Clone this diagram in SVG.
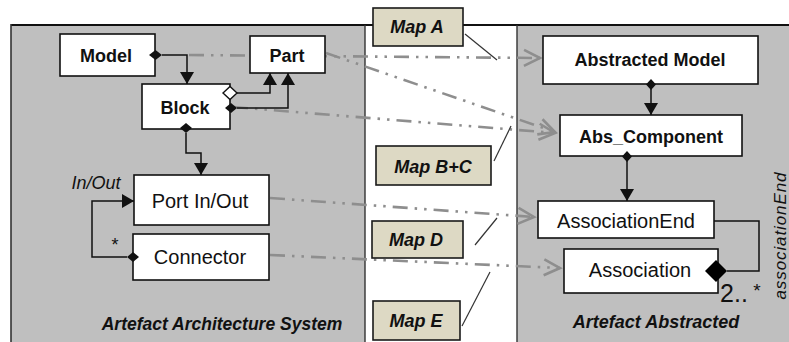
<svg xmlns="http://www.w3.org/2000/svg" width="789" height="342" viewBox="0 0 789 342">
<style>
.node{fill:#fff;stroke:#111;stroke-width:1.6}
.map{fill:#ddd9c4;stroke:#1a1a1a;stroke-width:1.6}
.t{font-family:"Liberation Sans",Arial,sans-serif;fill:#111;text-anchor:middle}
.b{font-weight:bold;font-size:18px}
.r{font-size:20px}
.mi{font-weight:bold;font-style:italic;font-size:18px}
.c{fill:none;stroke:#111;stroke-width:1.5}
.m{fill:none;stroke:#8e8e8e;stroke-width:2.6;stroke-dasharray:15 7 2.5 7 2.5 7}
.lead{fill:none;stroke:#333;stroke-width:1.2}
</style>
<defs>
<marker id="tri" markerUnits="userSpaceOnUse" markerWidth="14" markerHeight="14" viewBox="0 0 14 14" refX="12" refY="7" orient="auto">
<path d="M0,0 L12,7 L0,14 Z" fill="#111"/>
</marker>
<marker id="open" markerUnits="userSpaceOnUse" markerWidth="22" markerHeight="20" viewBox="0 0 22 20" refX="18" refY="10" orient="auto">
<path d="M2,2 L18,10 L2,18" fill="none" stroke="#8e8e8e" stroke-width="2.6"/>
</marker>
</defs>
<!-- panels -->
<rect x="11" y="25" width="354" height="317" fill="#bfbfbf"/>
<rect x="365" y="25" width="152" height="317" fill="#fff"/>
<rect x="517" y="25" width="272" height="317" fill="#bfbfbf"/>
<line x1="11" y1="25" x2="789" y2="25" stroke="#111" stroke-width="2"/>
<line x1="11" y1="24" x2="11" y2="342" stroke="#333" stroke-width="1.6"/>
<line x1="365" y1="25" x2="365" y2="342" stroke="#333" stroke-width="1.4"/>
<line x1="517" y1="25" x2="517" y2="342" stroke="#333" stroke-width="1.4"/>
<!-- mapping connectors -->
<g id="mappings">
<line class="m" x1="189" y1="55" x2="540" y2="58" marker-end="url(#open)"/>
<line class="m" x1="326" y1="53" x2="555" y2="132" marker-end="url(#open)"/>
<line class="m" x1="233" y1="107" x2="555" y2="133" marker-end="url(#open)"/>
<line class="m" x1="270" y1="198" x2="534" y2="217" marker-end="url(#open)"/>
<line class="m" x1="270" y1="255" x2="560" y2="268" marker-end="url(#open)"/>
<line class="lead" x1="465" y1="34" x2="497" y2="60"/>
<line class="lead" x1="494" y1="161" x2="511" y2="126"/>
<line class="lead" x1="475" y1="245" x2="497" y2="218"/>
<line class="lead" x1="462" y1="326" x2="490" y2="272"/>
</g>
<!-- nodes -->
<g id="model"><rect class="node" x="60" y="34" width="95" height="42"/><text class="t b" x="106" y="62">Model</text></g>
<g id="part"><rect class="node" x="250" y="36" width="75" height="37"/><text class="t b" x="287" y="62">Part</text></g>
<g id="block"><rect class="node" x="142" y="84" width="88" height="45"/><text class="t b" x="185" y="114">Block</text></g>
<g id="port"><rect class="node" x="134" y="175" width="135" height="50"/><text class="t r" x="200" y="208">Port In/Out</text></g>
<g id="connector"><rect class="node" x="133" y="234" width="136" height="46"/><text class="t r" x="200" y="264">Connector</text></g>
<g id="abstracted-model"><rect class="node" x="543" y="36" width="215" height="48"/><text class="t b" x="650" y="66">Abstracted Model</text></g>
<g id="abs-component"><rect class="node" x="560" y="115" width="182" height="41"/><text class="t b" x="651" y="143">Abs_Component</text></g>
<g id="association-end"><rect class="node" x="538" y="201" width="176" height="37"/><text class="t r" x="626" y="228">AssociationEnd</text></g>
<g id="association"><rect class="node" x="564" y="249" width="154" height="44"/><text class="t r" x="640" y="277">Association</text></g>
<g id="map-a"><rect class="map" x="373" y="8" width="90" height="38"/><text class="t mi" x="417" y="33">Map A</text></g>
<g id="map-bc"><rect class="map" x="376" y="146" width="115" height="39"/><text class="t mi" x="433" y="173">Map B+C</text></g>
<g id="map-d"><rect class="map" x="372" y="221" width="91" height="37"/><text class="t mi" x="416" y="246">Map D</text></g>
<g id="map-e"><rect class="map" x="373" y="301" width="87" height="39"/><text class="t mi" x="416" y="327">Map E</text></g>
<!-- structural connectors -->
<g id="connectors">
<polyline class="c" points="162,55 187,55 187,84" marker-end="url(#tri)"/>
<path d="M149,55 L155.5,50 L162,55 L155.5,60 Z" fill="#111"/>
<polyline class="c" points="237,93 270,93 270,73" marker-end="url(#tri)"/>
<path d="M223,93 L230,86.5 L237,93 L230,99.5 Z" fill="#fff" stroke="#111" stroke-width="1.4"/>
<polyline class="c" points="237,108 288,108 288,73" marker-end="url(#tri)"/>
<path d="M225,108 L231,103 L237,108 L231,113 Z" fill="#111"/>
<polyline class="c" points="186,133 186,153 201,153 201,175" marker-end="url(#tri)"/>
<path d="M186,123 L192,128 L186,133 L180,128 Z" fill="#111"/>
<polyline class="c" points="127,257 92,257 92,201 134,201" marker-end="url(#tri)"/>
<path d="M127,257 L133,252 L139,257 L133,262 Z" fill="#111"/>
<line class="c" x1="651" y1="89" x2="651" y2="115" marker-end="url(#tri)"/>
<path d="M651,79 L656,84.5 L651,90 L646,84.5 Z" fill="#111"/>
<line class="c" x1="627" y1="161" x2="627" y2="201" marker-end="url(#tri)"/>
<path d="M627,151 L632,156.5 L627,162 L622,156.5 Z" fill="#111"/>
<polyline class="c" points="714,221 759,221 759,271 727,271"/>
<path d="M705,271 L716,260 L727,271 L716,282 Z" fill="#000"/>
</g>
<!-- labels -->
<text class="t" x="96" y="189" style="font-style:italic;font-size:18px">In/Out</text>
<text class="t" x="115" y="251" style="font-size:18px">*</text>
<text class="t" x="734" y="302" style="font-size:25px">2..</text>
<text class="t" x="757" y="297" style="font-size:19px">*</text>
<text class="t" transform="translate(786,236) rotate(-90)" style="font-style:italic;font-size:17px" textLength="127" lengthAdjust="spacing">associationEnd</text>
<text class="t" x="222" y="330" style="font-weight:bold;font-style:italic;font-size:17.5px">Artefact Architecture System</text>
<text class="t" x="656" y="328" style="font-weight:bold;font-style:italic;font-size:18px">Artefact Abstracted</text>
</svg>
